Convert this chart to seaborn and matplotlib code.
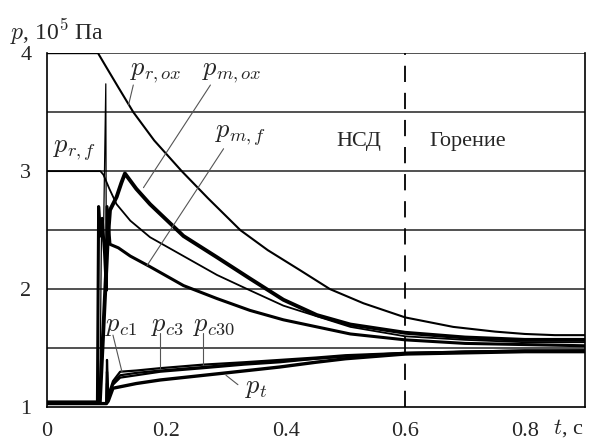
import numpy as np
import pandas as pd
import seaborn as sns
import matplotlib.pyplot as plt

# p_r,ox : oxidizer tank pressure
t_rox = [0, 0.086, 0.10, 0.12, 0.145, 0.18, 0.226, 0.27, 0.324, 0.37, 0.424, 0.474, 0.53, 0.6, 0.68, 0.75, 0.8, 0.85, 0.9]
p_rox = [4.0, 4.0, 3.88, 3.71, 3.5, 3.26, 3.0, 2.77, 2.5, 2.33, 2.16, 2.0, 1.88, 1.76, 1.68, 1.64, 1.62, 1.61, 1.61]

# p_r,f : fuel tank pressure
t_rf = [0, 0.09, 0.095, 0.105, 0.117, 0.14, 0.173, 0.229, 0.285, 0.34, 0.396, 0.452, 0.508, 0.6, 0.7, 0.8, 0.9]
p_rf = [3.0, 3.0, 2.97, 2.85, 2.72, 2.58, 2.44, 2.28, 2.12, 1.99, 1.86, 1.77, 1.68, 1.6, 1.57, 1.55, 1.55]

# p_m,ox : oxidizer manifold (ignition spike, then main trace)
t_mox_spike = [0.089, 0.092, 0.095, 0.099, 0.1, 0.102]
p_mox_spike = [1.04, 2.6, 2.4, 3.74, 2.0, 2.4]
t_mox = [0, 0.089, 0.102, 0.106, 0.117, 0.125, 0.131, 0.15, 0.173, 0.229, 0.285,
         0.34, 0.396, 0.452, 0.508, 0.6, 0.7, 0.8, 0.9]
p_mox = [1.04, 1.04, 2.4, 2.67, 2.78, 2.9, 2.98, 2.85, 2.72, 2.45, 2.27,
         2.09, 1.91, 1.78, 1.7, 1.63, 1.59, 1.57, 1.57]

# p_m,f : fuel manifold
t_mf = [0, 0.085, 0.087, 0.09, 0.093, 0.097, 0.1, 0.101, 0.106, 0.12, 0.14, 0.173, 0.229, 0.285,
        0.34, 0.396, 0.452, 0.508, 0.6, 0.7, 0.8, 0.9]
p_mf = [1.04, 1.04, 2.7, 2.45, 2.6, 2.3, 1.99, 2.7, 2.38, 2.35, 2.28, 2.19, 2.03, 1.92,
        1.82, 1.74, 1.68, 1.62, 1.57, 1.54, 1.53, 1.52]

# chamber pressures and p_t
t_c = [0, 0.1, 0.101, 0.103, 0.111, 0.123, 0.15, 0.19, 0.262, 0.33, 0.39, 0.45, 0.5, 0.6, 0.7, 0.8, 0.9]
p_c1 = [1.03, 1.03, 1.4, 1.1, 1.22, 1.3, 1.31, 1.33, 1.36, 1.38, 1.4, 1.42, 1.44, 1.46, 1.47, 1.48, 1.48]
p_c3 = [1.03, 1.03, 1.3, 1.08, 1.2, 1.27, 1.29, 1.31, 1.34, 1.37, 1.39, 1.41, 1.43, 1.46, 1.47, 1.48, 1.48]
p_c30 = [1.03, 1.03, 1.2, 1.07, 1.19, 1.25, 1.27, 1.3, 1.33, 1.36, 1.38, 1.41, 1.43, 1.45, 1.47, 1.47, 1.48]
t_t = [0, 0.1, 0.103, 0.111, 0.15, 0.19, 0.3, 0.39, 0.45, 0.5, 0.6, 0.7, 0.8, 0.9]
p_t = [1.03, 1.03, 1.05, 1.16, 1.2, 1.23, 1.29, 1.34, 1.38, 1.41, 1.45, 1.46, 1.47, 1.47]

x_ticks = [0, 0.2, 0.4, 0.6, 0.8]
x_labels = ["0", "0.2", "0.4", "0.6", "0.8"]
y_ticks = [1, 2, 3, 4]

sns.set_style("white")
plt.rcParams['font.family'] = ['Liberation Serif', 'DejaVu Serif']
plt.rcParams['mathtext.fontset'] = 'cm'

fig = plt.figure(figsize=(5.9, 4.43), dpi=100)
ax = fig.add_axes([0.079, 0.081, 0.912, 0.799])

curves = [
    (t_rox, p_rox, 1.5),
    (t_rf, p_rf, 1.3),
    (t_mox_spike, p_mox_spike, 0.9),
    (t_mox, p_mox, 2.8),
    (t_mf, p_mf, 2.2),
    (t_c, p_c1, 1.6),
    (t_c, p_c3, 1.6),
    (t_c, p_c30, 1.6),
    (t_t, p_t, 2.4),
]
for tt, pp, lw in curves:
    sns.lineplot(x=tt, y=pp, ax=ax, color="black", linewidth=lw, estimator=None, sort=False)

ax.set_xlim(0, 0.9)
ax.set_ylim(1, 4)

# grid every 0.5
for g in np.arange(1.5, 4.01, 0.5):
    ax.axhline(g, color="#333333", linewidth=1.2, zorder=0)
ax.axvline(0.6, color="black", linewidth=1.3, dashes=(9, 6))

ax.set_xticks(np.arange(0, 0.91, 0.1), minor=True)
ax.set_xticks(x_ticks)
ax.set_xticklabels(x_labels, fontsize=16)
ax.set_yticks(np.arange(1, 4.01, 0.5), minor=True)
ax.set_yticks(y_ticks)
ax.set_yticklabels([str(v) for v in y_ticks], fontsize=16)
ax.tick_params(which="both", direction="out", length=7, width=1.1, color="black", pad=4)
ax.tick_params(axis="x", which="minor", labelbottom=False)
for s in ax.spines.values():
    s.set_color("black")
    s.set_linewidth(1.2)
ax.spines["top"].set_visible(False)
ax.set_xlabel("")
ax.set_ylabel("")

ax.annotate("$t$, c", xy=(0.873, 0), xycoords=("data", "axes fraction"), xytext=(0, -15),
            textcoords="offset points", ha="center", va="center", fontsize=16)
fig.text(10 / 590, 1 - 32 / 443, "$p$, 10$^5$ Па", ha="left", va="center", fontsize=17)

# curve labels with leader lines
lead = dict(color="#555555", linewidth=0.8)
labels = [
    (r"$p_{r,ox}$", (0.183, 3.83), (0.145, 3.73), (0.137, 3.56)),
    (r"$p_{m,ox}$", (0.31, 3.83), (0.274, 3.73), (0.162, 2.86)),
    (r"$p_{m,f}$", (0.324, 3.3), (0.296, 3.19), (0.168, 2.2)),
    (r"$p_{r,f}$", (0.047, 3.17), None, None),
    (r"$p_{c1}$", (0.125, 1.68), (0.111, 1.61), (0.126, 1.3)),
    (r"$p_{c3}$", (0.202, 1.68), (0.19, 1.63), (0.19, 1.33)),
    (r"$p_{c30}$", (0.28, 1.68), (0.262, 1.63), (0.262, 1.36)),
    (r"$p_t$", (0.35, 1.15), (0.32, 1.19), (0.3, 1.27)),
]
for txt, pos, a, b in labels:
    ax.text(pos[0], pos[1], txt, ha="center", va="center", fontsize=19)
    if a is not None:
        ax.plot([a[0], b[0]], [a[1], b[1]], **lead)

ax.text(0.523, 3.25, "НСД", ha="center", va="center", fontsize=16)
ax.text(0.705, 3.25, "Горение", ha="center", va="center", fontsize=16)

plt.savefig("out.png", dpi=100)
